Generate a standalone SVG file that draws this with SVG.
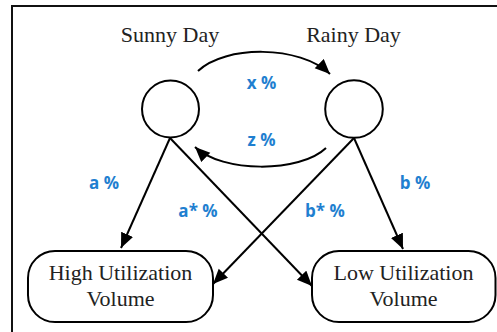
<svg xmlns="http://www.w3.org/2000/svg" width="497" height="332" viewBox="0 0 497 332">
  <style>
    .frame { fill: none; stroke: #111; stroke-width: 2; }
    .state { fill: #fff; stroke: #000; stroke-width: 2; }
    .box { fill: #fff; stroke: #000; stroke-width: 2; }
    .edge { fill: none; stroke: #000; stroke-width: 2; marker-end: url(#arrow); }
    .title { font-family: "Liberation Serif", "Times New Roman", serif; font-size: 22px; fill: #222; text-anchor: middle; }
    .rate { font-family: "Open Sans", "Liberation Sans", Arial, sans-serif; font-size: 17px; font-weight: bold; fill: #1f7fd0; text-anchor: middle; }
  </style>
  <defs>
    <marker id="arrow" markerUnits="userSpaceOnUse" markerWidth="16" markerHeight="14" refX="15" refY="6.5" orient="auto">
      <path d="M0,0 L15,6.5 L0,13 z" fill="#000"/>
    </marker>
  </defs>

  <rect width="497" height="332" fill="#fff"/>
  <path class="frame" d="M12,332 V6 H497"/>

  <g id="connectors">
    <path class="edge" d="M198,71 C225,45 300,45 330,74"/>
    <path class="edge" d="M326,148 C300,173 222,173 195,147"/>
    <path class="edge" d="M170,138 L121,248"/>
    <path class="edge" d="M170,138 L312,286"/>
    <path class="edge" d="M354,138 L403,249"/>
    <path class="edge" d="M354,138 L213,284"/>
  </g>

  <g id="sunny">
    <circle class="state" cx="170.5" cy="109" r="28.5"/>
    <text class="title" x="170" y="42">Sunny Day</text>
  </g>
  <g id="rainy">
    <circle class="state" cx="354" cy="109" r="28.8"/>
    <text class="title" x="353.5" y="42">Rainy Day</text>
  </g>

  <g id="rate-labels">
    <text class="rate" x="261.5" y="89">x %</text>
    <text class="rate" x="261.5" y="146">z %</text>
    <text class="rate" x="104" y="189">a %</text>
    <text class="rate" x="198" y="217">a* %</text>
    <text class="rate" x="325" y="217">b* %</text>
    <text class="rate" x="415" y="189">b %</text>
  </g>

  <g id="high-volume">
    <rect class="box" x="28" y="251" width="185" height="71" rx="27" ry="27"/>
    <text class="title" x="120.5" y="280">High Utilization</text>
    <text class="title" x="120.5" y="306">Volume</text>
  </g>
  <g id="low-volume">
    <rect class="box" x="312" y="251" width="183.5" height="71" rx="27" ry="27"/>
    <text class="title" x="403.5" y="280">Low Utilization</text>
    <text class="title" x="403.5" y="306">Volume</text>
  </g>
</svg>
